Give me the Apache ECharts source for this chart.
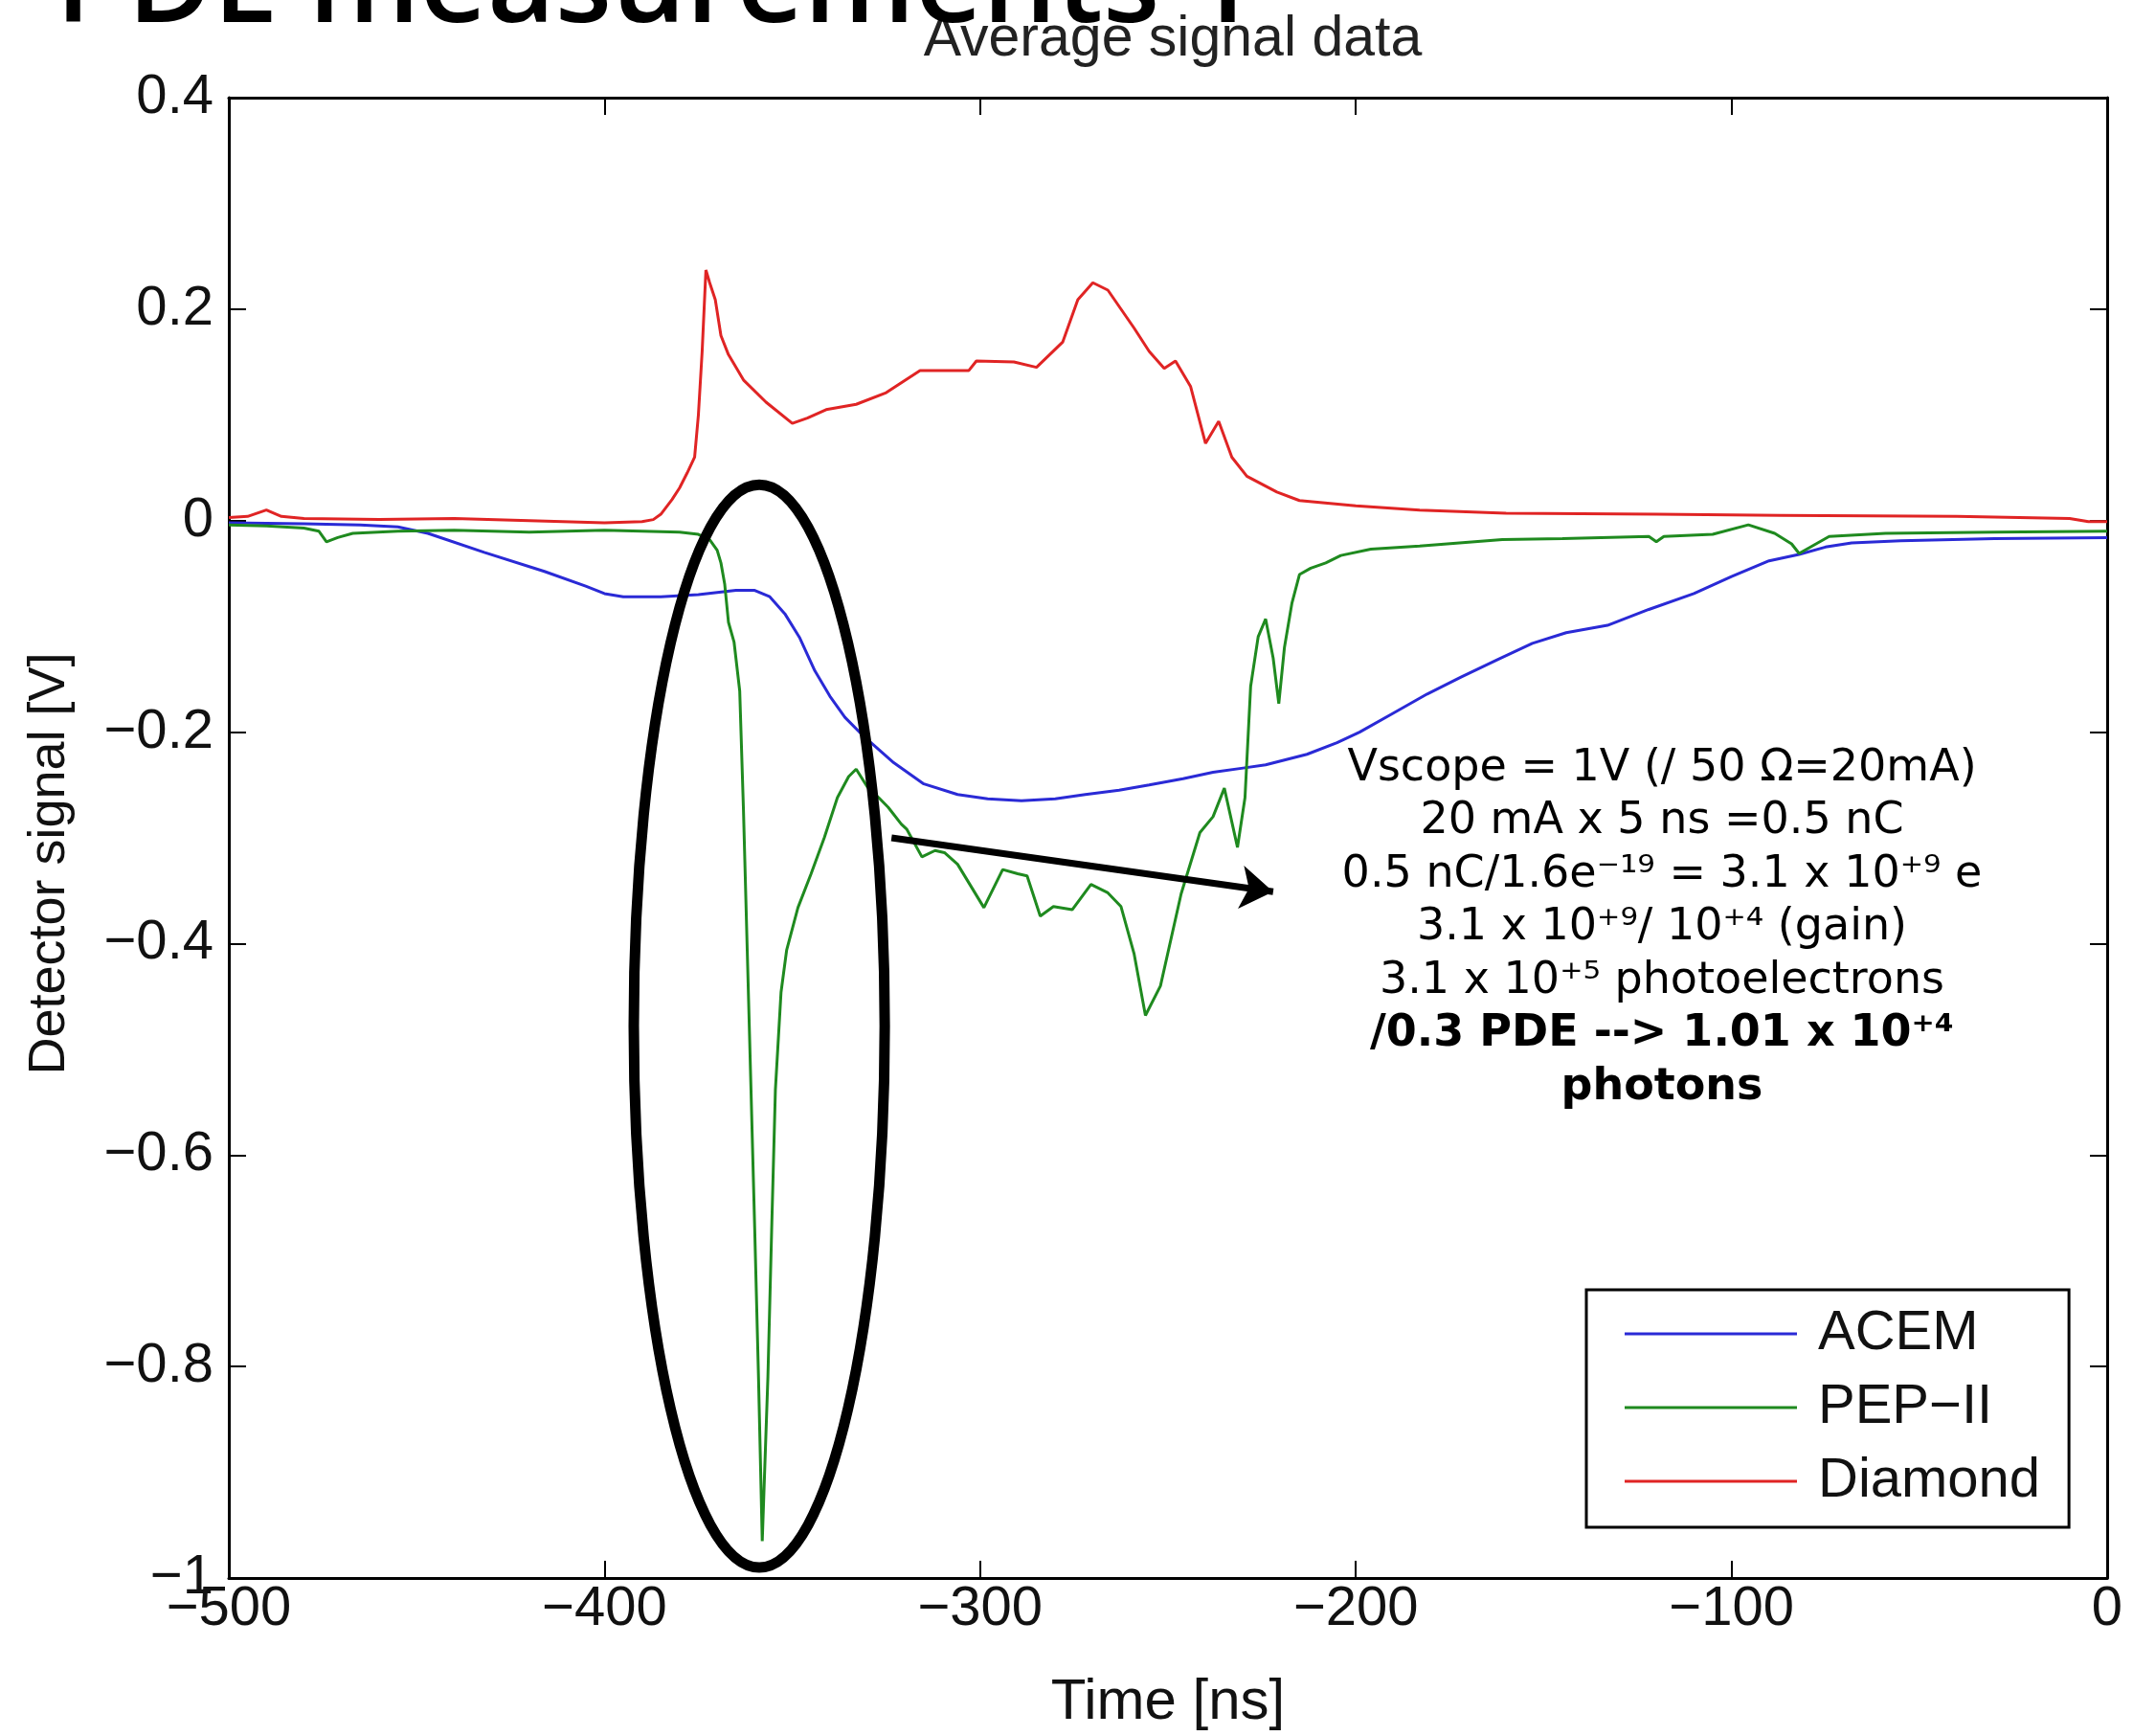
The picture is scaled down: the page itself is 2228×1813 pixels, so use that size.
<!DOCTYPE html>
<html>
<head>
<meta charset="utf-8">
<script src="https://cdn.jsdelivr.net/npm/echarts@6/dist/echarts.min.js"></script>
<style>
html,body{margin:0;padding:0;background:#fff;}
#chart{width:2228px;height:1813px;}
</style>
</head>
<body>
<div id="chart"></div>
<script>
// ---- data (time in ns, signal in V) ----
const acemTime = [-500,-480,-465,-455,-447,-432,-416,-405,-400,-395,-385,-375,-365,-360,-356,-352,-348,-344,-340,-336,-331,-323,-315,-306,-298,-289,-280,-272,-263,-255,-246,-238,-230,-224,-213,-205,-199,-190,-181,-172,-162,-153,-144,-133,-122,-110,-100,-90,-82,-75,-68,-55,-30,0];
const acemSignal = [-0.002,-0.003,-0.004,-0.006,-0.012,-0.030,-0.048,-0.062,-0.069,-0.072,-0.072,-0.070,-0.066,-0.066,-0.072,-0.088,-0.111,-0.142,-0.166,-0.186,-0.204,-0.229,-0.249,-0.259,-0.263,-0.265,-0.263,-0.259,-0.255,-0.250,-0.244,-0.238,-0.234,-0.231,-0.221,-0.210,-0.200,-0.182,-0.164,-0.148,-0.131,-0.116,-0.106,-0.099,-0.084,-0.069,-0.053,-0.038,-0.032,-0.025,-0.021,-0.019,-0.017,-0.016];

const pepTime = [-500,-490,-480,-476,-474,-471,-467,-455,-440,-420,-410,-400,-390,-380,-375,-372,-370,-369,-368,-367,-365.5,-364,-363,-362,-361,-360,-359,-358,-356.5,-355.5,-354.5,-353,-351.5,-348.5,-345,-341.5,-338,-335,-333,-330,-327,-324.5,-321,-319.5,-315.5,-312,-309.5,-306,-299,-294,-290,-287.5,-284,-280.5,-275.5,-270.5,-266,-262.5,-259,-256,-252,-246.5,-241.5,-238,-235,-231.5,-229.5,-228,-226,-224,-222,-220.5,-219,-217,-215,-212,-208,-204,-196,-183,-161,-145,-122,-120,-118,-105,-95.5,-88.5,-84,-82,-78.5,-74,-59,-30,0];
const pepSignal = [-0.004,-0.005,-0.007,-0.010,-0.020,-0.016,-0.012,-0.010,-0.009,-0.011,-0.010,-0.009,-0.010,-0.011,-0.013,-0.018,-0.028,-0.040,-0.060,-0.096,-0.115,-0.161,-0.274,-0.406,-0.538,-0.671,-0.810,-0.965,-0.810,-0.671,-0.538,-0.446,-0.406,-0.366,-0.334,-0.300,-0.262,-0.242,-0.235,-0.252,-0.262,-0.271,-0.287,-0.292,-0.318,-0.312,-0.314,-0.325,-0.366,-0.330,-0.334,-0.336,-0.374,-0.365,-0.368,-0.344,-0.352,-0.365,-0.410,-0.468,-0.440,-0.353,-0.295,-0.280,-0.253,-0.309,-0.262,-0.157,-0.110,-0.093,-0.130,-0.173,-0.120,-0.078,-0.051,-0.045,-0.040,-0.033,-0.027,-0.024,-0.018,-0.017,-0.015,-0.020,-0.015,-0.013,-0.004,-0.012,-0.022,-0.031,-0.024,-0.015,-0.012,-0.011,-0.010];

const diamondTime = [-500,-495,-490,-486,-480,-460,-440,-420,-400,-390,-387,-385,-382,-380,-378,-376,-375,-374,-373,-372,-370.5,-369,-367,-363,-357,-350,-346,-341,-333,-325,-316,-303,-301,-291,-285,-278,-274,-270,-266,-259,-255,-251,-248,-244,-240,-236.5,-233,-229,-221,-215,-200,-183,-160,-120,-87,-40,-10,-5,0];
const diamondSignal = [0.003,0.004,0.010,0.004,0.002,0.001,0.002,0.000,-0.002,-0.001,0.001,0.006,0.020,0.031,0.045,0.060,0.100,0.160,0.237,0.225,0.209,0.175,0.157,0.133,0.112,0.092,0.097,0.105,0.110,0.121,0.142,0.142,0.151,0.150,0.145,0.169,0.209,0.225,0.218,0.182,0.160,0.144,0.151,0.127,0.073,0.094,0.060,0.042,0.027,0.019,0.014,0.010,0.007,0.006,0.005,0.004,0.002,-0.001,-0.001];

const seriesNames = ['ACEM', 'PEP\u2212II', 'Diamond'];
const xTicks = [-500, -400, -300, -200, -100, 0];
const yTicks = [-1, -0.8, -0.6, -0.4, -0.2, 0, 0.2, 0.4];

// annotation (data coordinates)
const arrowFrom = [-323.6, -0.300];
const arrowTo = [-222.0, -0.351];
const ellipseCenter = [-358.8, -0.478];
const ellipseRadius = [33.4, 0.512];

const noteLines = [
  'Vscope = 1V (/ 50 \u03A9=20mA)',
  '20 mA x 5 ns =0.5 nC',
  '0.5 nC/1.6e\u207B\u00B9\u2079 = 3.1 x 10\u207A\u2079 e',
  '3.1 x 10\u207A\u2079/ 10\u207A\u2074 (gain)',
  '3.1 x 10\u207A\u2075 photoelectrons'
];
const noteBold = ['/0.3 PDE --> 1.01 x 10\u207A\u2074', 'photons'];

const pair = (xs, ys) => xs.map((x, i) => [x, ys[i]]);
const minus = s => String(s).replace('-', '\u2212');

const chart = echarts.init(document.getElementById('chart'), null, {renderer: 'canvas'});
const FONT = 'Liberation Sans';
const axisCommon = {
  axisLine: {show: true, onZero: false, lineStyle: {color: '#000', width: 3}},
  axisTick: {show: true, inside: true, length: 18, lineStyle: {color: '#000', width: 2}},
  splitLine: {show: false}
};

chart.setOption({
  animation: false,
  backgroundColor: '#fff',
  title: {
    text: 'Average signal data',
    left: 1220, top: 7, textAlign: 'center',
    textStyle: {fontFamily: FONT, fontSize: 59, fontWeight: 'normal', color: '#222'}
  },
  grid: {left: 239, right: 27, top: 102, bottom: 165, containLabel: false},
  legend: {
    data: seriesNames,
    orient: 'vertical',
    left: 1657, top: 1347,
    icon: 'rect',
    itemWidth: 180, itemHeight: 3, itemGap: 17,
    padding: [16, 30, 18, 40],
    borderColor: '#000', borderWidth: 3,
    backgroundColor: '#fff',
    selectedMode: false,
    textStyle: {fontFamily: FONT, fontSize: 58, lineHeight: 60, color: '#111', padding: [0, 0, 0, 17]}
  },
  xAxis: [
    Object.assign({}, axisCommon, {
      type: 'value', min: -500, max: 0, interval: 100, position: 'bottom',
      name: 'Time [ns]', nameLocation: 'middle', nameGap: 100,
      nameTextStyle: {fontFamily: FONT, fontSize: 60, color: '#111'},
      axisLabel: {fontFamily: FONT, fontSize: 58, color: '#111', margin: 4, formatter: v => minus(v)}
    }),
    Object.assign({}, axisCommon, {
      type: 'value', min: -500, max: 0, interval: 100, position: 'top',
      axisLabel: {show: false}
    })
  ],
  yAxis: [
    Object.assign({}, axisCommon, {
      type: 'value', min: -1, max: 0.4, interval: 0.2, position: 'left',
      name: 'Detector signal [V]', nameLocation: 'middle', nameGap: 160, nameRotate: 90,
      nameTextStyle: {fontFamily: FONT, fontSize: 54, color: '#111', padding: [0, 54, 0, 0]},
      axisLabel: {fontFamily: FONT, fontSize: 58, color: '#111', margin: 16,
        formatter: v => v === 0 ? '0' : minus(Math.round(v * 10) / 10)}
    }),
    Object.assign({}, axisCommon, {
      type: 'value', min: -1, max: 0.4, interval: 0.2, position: 'right',
      axisLabel: {show: false}
    })
  ],
  series: [
    {name: seriesNames[0], type: 'line', data: pair(acemTime, acemSignal), showSymbol: false,
     lineStyle: {color: '#2a2ad6', width: 3}, itemStyle: {color: '#2a2ad6'}},
    {name: seriesNames[1], type: 'line', data: pair(pepTime, pepSignal), showSymbol: false,
     lineStyle: {color: '#1f8a1f', width: 3}, itemStyle: {color: '#1f8a1f'},
     markLine: {
       silent: true, symbol: ['none', 'arrow'], symbolSize: 34,
       label: {show: false},
       lineStyle: {color: '#000', width: 7, type: 'solid'},
       itemStyle: {color: '#000'},
       emphasis: {disabled: true},
       data: [[{coord: arrowFrom}, {coord: arrowTo}]]
     }},
    {name: seriesNames[2], type: 'line', data: pair(diamondTime, diamondSignal), showSymbol: false,
     lineStyle: {color: '#e02424', width: 3}, itemStyle: {color: '#e02424'}}
  ]
});

const c = chart.convertToPixel({gridIndex: 0}, ellipseCenter);
const e = chart.convertToPixel({gridIndex: 0}, [ellipseCenter[0] + ellipseRadius[0], ellipseCenter[1] + ellipseRadius[1]]);
const richText = noteLines.map(t => '{n|' + t + '}').concat(noteBold.map(t => '{b|' + t + '}')).join('\n');

chart.setOption({
  graphic: [
    {type: 'text', id: 'slideTitle', x: 58, y: -12, z: 100,
     style: {text: 'PDE measurements 1', fontFamily: 'Open Sans', fontSize: 122, fontWeight: 600,
       fill: '#000', textAlign: 'left', verticalAlign: 'middle'}},
    {type: 'ellipse', id: 'ring', z: 50,
     shape: {cx: c[0], cy: c[1], rx: Math.abs(e[0] - c[0]), ry: Math.abs(c[1] - e[1])},
     style: {fill: 'none', stroke: '#000', lineWidth: 11}},
    {type: 'text', id: 'note', x: 1736, y: 775, z: 60,
     style: {text: richText, textAlign: 'center', align: 'center', fill: '#000',
       rich: {
         n: {fontFamily: 'DejaVu Sans', fontSize: 46, lineHeight: 55.5, fill: '#000'},
         b: {fontFamily: 'DejaVu Sans', fontSize: 46, fontWeight: 'bold', lineHeight: 55.5, fill: '#000'}
       }}}
  ]
});
</script>
</body>
</html>
